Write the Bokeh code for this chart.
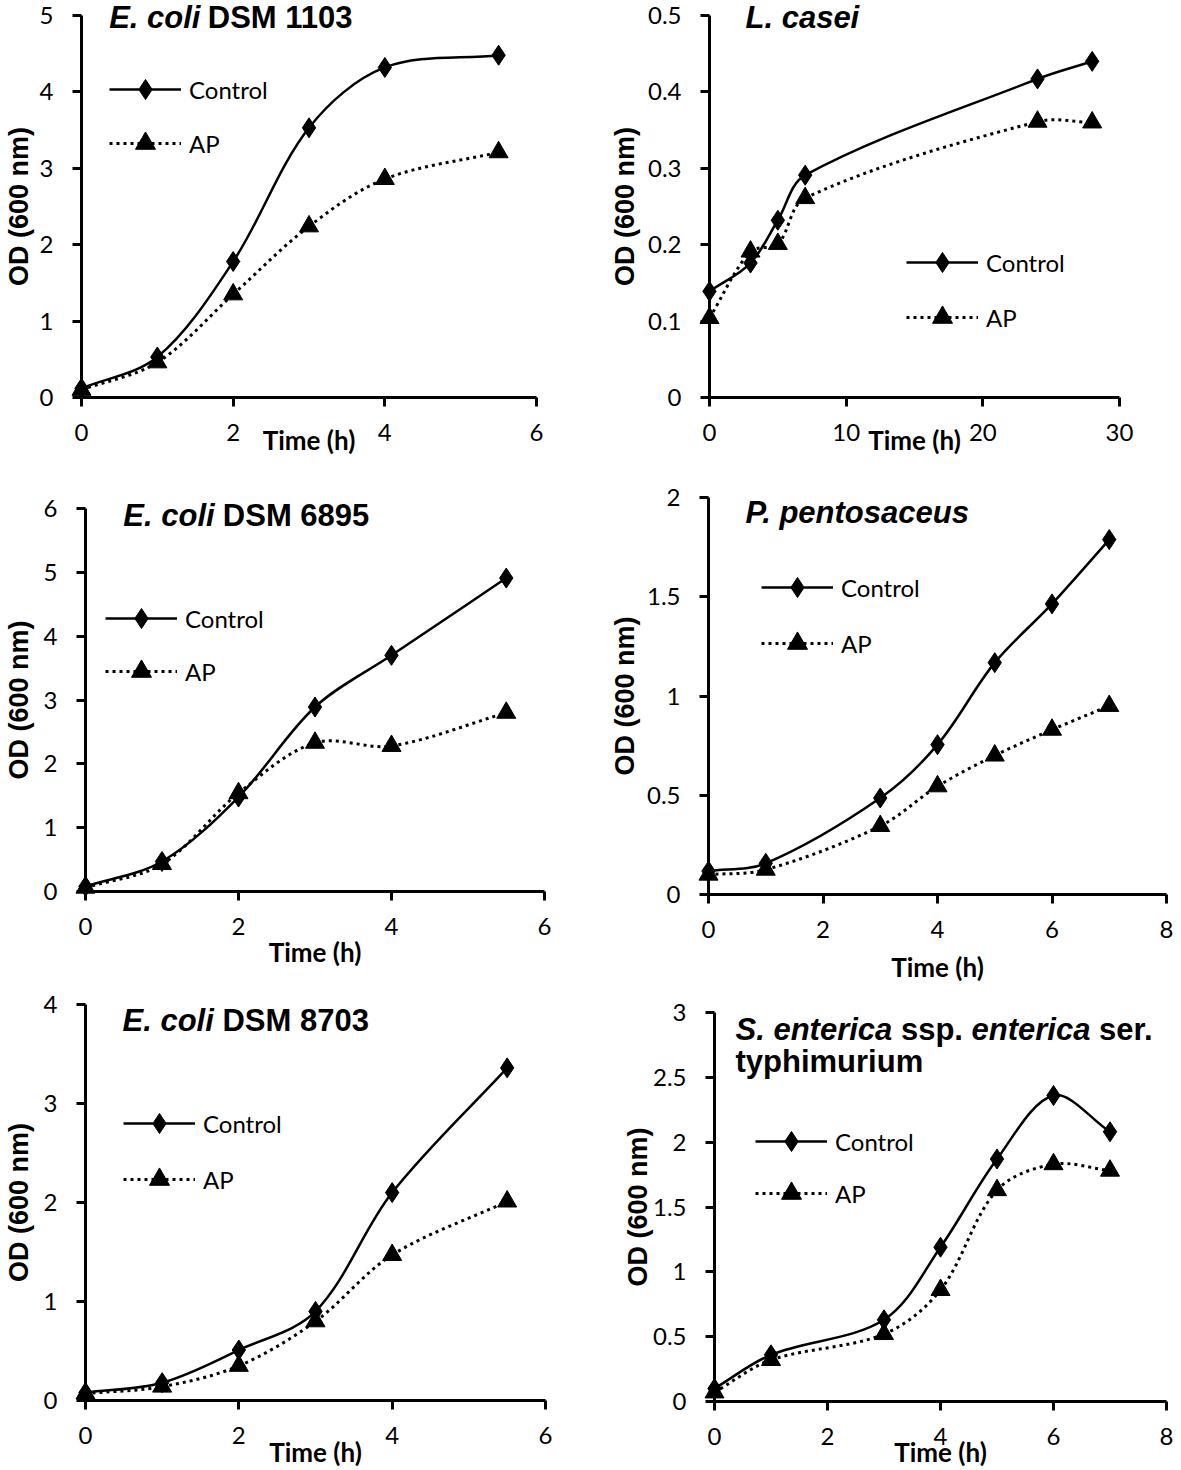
import numpy as np
from bokeh.plotting import figure
from bokeh.models import (ColumnDataSource, FixedTicker, Range1d, Legend,
                          LegendItem, CustomJSTickFormatter)
from bokeh.core.properties import value
from bokeh.layouts import column, row
from bokeh.embed import file_html
from bokeh.resources import INLINE

# ---------------- data ----------------
time_1103 = [0, 1, 2, 3, 4, 5.5]
control_1103 = [0.12, 0.53, 1.78, 3.53, 4.32, 4.48]
ap_1103 = [0.10, 0.46, 1.35, 2.24, 2.86, 3.21]

time_casei = [0, 3, 5, 7, 24, 28]
control_casei = [0.139, 0.176, 0.232, 0.291, 0.417, 0.440]
ap_casei = [0.104, 0.191, 0.201, 0.261, 0.361, 0.360]

time_6895 = [0, 1, 2, 3, 4, 5.5]
control_6895 = [0.08, 0.47, 1.48, 2.89, 3.70, 4.91]
ap_6895 = [0.06, 0.43, 1.54, 2.33, 2.28, 2.80]

time_pento = [0, 1, 3, 4, 5, 6, 7]
control_pento = [0.118, 0.157, 0.486, 0.755, 1.168, 1.464, 1.788]
ap_pento = [0.100, 0.125, 0.345, 0.545, 0.700, 0.830, 0.950]

time_8703 = [0, 1, 2, 3, 4, 5.5]
control_8703 = [0.08, 0.18, 0.51, 0.90, 2.10, 3.36]
ap_8703 = [0.07, 0.14, 0.35, 0.80, 1.47, 2.01]

time_sent = [0, 1, 3, 4, 5, 6, 7]
control_sent = [0.10, 0.36, 0.63, 1.19, 1.87, 2.36, 2.08]
ap_sent = [0.07, 0.32, 0.52, 0.86, 1.63, 1.83, 1.78]

xticks_6 = [0, 2, 4, 6]
xticks_30 = [0, 10, 20, 30]
xticks_8 = [0, 2, 4, 6, 8]
yticks_1103 = [0, 1, 2, 3, 4, 5]
yticks_casei = [0, 0.1, 0.2, 0.3, 0.4, 0.5]
yticks_6895 = [0, 1, 2, 3, 4, 5, 6]
yticks_pento = [0, 0.5, 1, 1.5, 2]
yticks_8703 = [0, 1, 2, 3, 4]
yticks_sent = [0, 0.5, 1, 1.5, 2, 2.5, 3]

series_names = ["Control", "AP"]
x_title = "Time (h)"
y_title = "OD (600 nm)"

# ---------------- helpers ----------------
ARIAL_B = {'S': 667, '.': 278, ' ': 278, 'e': 556, 'n': 611, 't': 333, 'r': 389,
           'i': 278, 'c': 556, 'a': 556, 's': 556, 'p': 611, 'E': 667, 'o': 611,
           'l': 278, 'L': 611, 'D': 722, 'M': 833, 'P': 667, 'u': 611, 'y': 556,
           'h': 611, 'm': 889}


def text_w(s, size):
    return sum(ARIAL_B.get(ch, 556) for ch in s) / 1000.0 * size


def segments(xs, ys, ppx, ppy):
    """Smoothed-line Bezier segments (Excel style) from the data points."""
    X = np.asarray(xs, float)
    Y = np.asarray(ys, float)
    n = len(X)

    def dist(i, j):
        return float(np.hypot((X[j] - X[i]) * ppx, (Y[j] - Y[i]) * ppy))

    def ctrl(i, outgoing):
        a, b = max(i - 1, 0), min(i + 1, n - 1)
        din, dout = dist(a, i), dist(i, b)
        w = (dout if outgoing else din) / (din + dout)
        sgn = 1 if outgoing else -1
        return X[i] + sgn * (X[b] - X[a]) * w / 3, Y[i] + sgn * (Y[b] - Y[a]) * w / 3

    d = dict(x0=[], y0=[], x1=[], y1=[], cx0=[], cy0=[], cx1=[], cy1=[])
    for i in range(n - 1):
        c0 = ctrl(i, True)
        c1 = ctrl(i + 1, False)
        d['x0'].append(X[i]); d['y0'].append(Y[i])
        d['x1'].append(X[i + 1]); d['y1'].append(Y[i + 1])
        d['cx0'].append(c0[0]); d['cy0'].append(c0[1])
        d['cx1'].append(c1[0]); d['cy1'].append(c1[1])
    return d


FMT = CustomJSTickFormatter(code="return String(Math.round(tick*1000)/1000);")

TITLE_SIZE = 31
TICK_FONT = "Lato"


def panel(box, frame, xr, yr, xt, yt, t, ctrl, ap, title_parts, title_pos,
          ylab_standoff, xlab_standoff, legend_pos):
    c0, r0, W, H = box
    L, R, T, B = frame
    ppx = (R - L) / (xr[1] - xr[0])
    ppy = (B - T) / (yr[1] - yr[0])

    def dx(px):
        return xr[0] + (px - L) / ppx

    def dy(py):
        return yr[0] + (B - py) / ppy

    p = figure(width=W, height=H, x_range=Range1d(*xr), y_range=Range1d(*yr),
               output_backend="svg", toolbar_location=None, title=None,
               min_border_left=L - c0, min_border_right=c0 + W - R,
               min_border_top=T - r0, min_border_bottom=r0 + H - B,
               align="start")
    p.xgrid.visible = False
    p.ygrid.visible = False
    p.outline_line_color = None
    p.background_fill_color = "white"
    p.border_fill_color = "white"
    p.xaxis.ticker = FixedTicker(ticks=xt)
    p.yaxis.ticker = FixedTicker(ticks=yt)
    for ax in (p.xaxis[0], p.yaxis[0]):
        ax.formatter = FMT
        ax.axis_line_width = 3
        ax.axis_line_color = "black"
        ax.major_tick_line_width = 3
        ax.major_tick_line_color = "black"
        ax.major_tick_out = 9
        ax.major_tick_in = 0
        ax.minor_tick_line_color = None
        ax.major_label_text_font = TICK_FONT
        ax.major_label_text_font_size = "24px"
        ax.major_label_text_color = "black"
    p.xaxis.major_label_standoff = 17
    p.yaxis.major_label_standoff = 19

    p.yaxis.axis_label = y_title
    p.yaxis.axis_label_text_font = "Liberation Sans"
    p.yaxis.axis_label_text_font_style = "bold"
    p.yaxis.axis_label_text_font_size = "27px"
    p.yaxis.axis_label_text_color = "black"
    p.yaxis.axis_label_standoff = ylab_standoff
    p.xaxis.axis_label = x_title
    p.xaxis.axis_label_text_font = "Lato"
    p.xaxis.axis_label_text_font_style = "bold"
    p.xaxis.axis_label_text_font_size = "26px"
    p.xaxis.axis_label_text_color = "black"
    p.xaxis.axis_label_standoff = xlab_standoff

    rl_c = p.bezier(x0="x0", y0="y0", x1="x1", y1="y1", cx0="cx0", cy0="cy0",
                    cx1="cx1", cy1="cy1", source=ColumnDataSource(segments(t, ctrl, ppx, ppy)),
                    line_color="black", line_width=2.5)
    rl_a = p.bezier(x0="x0", y0="y0", x1="x1", y1="y1", cx0="cx0", cy0="cy0",
                    cx1="cx1", cy1="cy1", source=ColumnDataSource(segments(t, ap, ppx, ppy)),
                    line_color="black", line_width=3, line_dash="3 4")
    rm_c = p.scatter(t, ctrl, marker="diamond", size=20, fill_color="black",
                     line_color="black", level="overlay")
    rm_a = p.scatter(t, ap, marker="triangle", size=19, fill_color="black",
                     line_color="black", level="overlay")

    gl, yc, ya = legend_pos
    gh = 50
    leg = Legend(items=[LegendItem(label=series_names[0], renderers=[rl_c, rm_c]),
                        LegendItem(label=series_names[1], renderers=[rl_a, rm_a])],
                 location=(gl - L, B - (ya + gh / 2)),
                 glyph_width=72, glyph_height=gh, label_standoff=8,
                 spacing=int(round(ya - yc - gh)), padding=0, margin=0,
                 border_line_color=None, background_fill_alpha=0,
                 label_text_font=TICK_FONT, label_text_font_size="24px",
                 label_text_color="black")
    p.add_layout(leg)

    # panel title (mixed italic / bold) as text glyphs that may leave the frame
    tx, mids = title_pos
    for line, mid in zip(title_parts, mids):
        cur = tx
        for txt, ital in line:
            s = txt.strip()
            cur += text_w(txt[:len(txt) - len(txt.lstrip())], TITLE_SIZE)
            p.text(x=[dx(cur)], y=[dy(mid)], text=[s],
                   text_font=value("Liberation Sans"),
                   text_font_style="bold italic" if ital else "bold",
                   text_font_size=f"{TITLE_SIZE}px", text_color="black",
                   text_align="left", text_baseline="middle", level="overlay")
            cur += text_w(txt.lstrip(), TITLE_SIZE)
    return p


# boxes: (col start, row start, width, height) in page pixels; frames: L, R, T, B
C1, C2, WL, WR = 0, 590, 590, 591
R1, R2, R3 = 0, 465, 986
H1, H2, H3 = 465, 521, 484

p1 = panel((C1, R1, WL, H1), (75, 536, 15, 397), (0, 6), (0, 5), xticks_6, yticks_1103,
           time_1103, control_1103, ap_1103,
           [[("E. coli", True), (" DSM 1103", False)]], (103, [17]),
           3, -20, (103, 89, 143))
p2 = panel((C2, R1, WR, H1), (709, 1119, 15, 397), (0, 30), (0, 0.5), xticks_30, yticks_casei,
           time_casei, control_casei, ap_casei,
           [[("L. casei", True)]], (745, [17]),
           5, -20, (906, 262, 317))
p3 = panel((C1, R2, WL, H2), (83, 544, 508, 891), (0, 6), (0, 6), xticks_6, yticks_6895,
           time_6895, control_6895, ap_6895,
           [[("E. coli", True), (" DSM 6895", False)]], (121, [515]),
           7, -2, (103, 618, 671))
p4 = panel((C2, R2, WR, H2), (708, 1166, 497, 894), (0, 8), (0, 2), xticks_8, yticks_pento,
           time_pento, control_pento, ap_pento,
           [[("P. pentosaceus", True)]], (745, [512]),
           4, 10, (761, 587, 643))
p5 = panel((C1, R3, WL, H3), (85, 545, 1004, 1400), (0, 6), (0, 4), xticks_6, yticks_8703,
           time_8703, control_8703, ap_8703,
           [[("E. coli", True), (" DSM 8703", False)]], (122, [1020]),
           7, -11, (123, 1123, 1179))
p6 = panel((C2, R3, WR, H3), (714, 1166, 1012, 1401), (0, 8), (0, 3), xticks_8, yticks_sent,
           time_sent, control_sent, ap_sent,
           [[("S. enterica", True), (" ssp. ", False), ("enterica", True), (" ser.", False)],
            [("typhimurium", False)]], (735, [1029, 1061]),
           -3, -12, (755, 1141, 1193))

layout = column(row(column(p1), column(p2)),
                row(column(p3), column(p4)),
                row(column(p5), column(p6)))
open("out.html", "w").write(file_html(layout, INLINE))
